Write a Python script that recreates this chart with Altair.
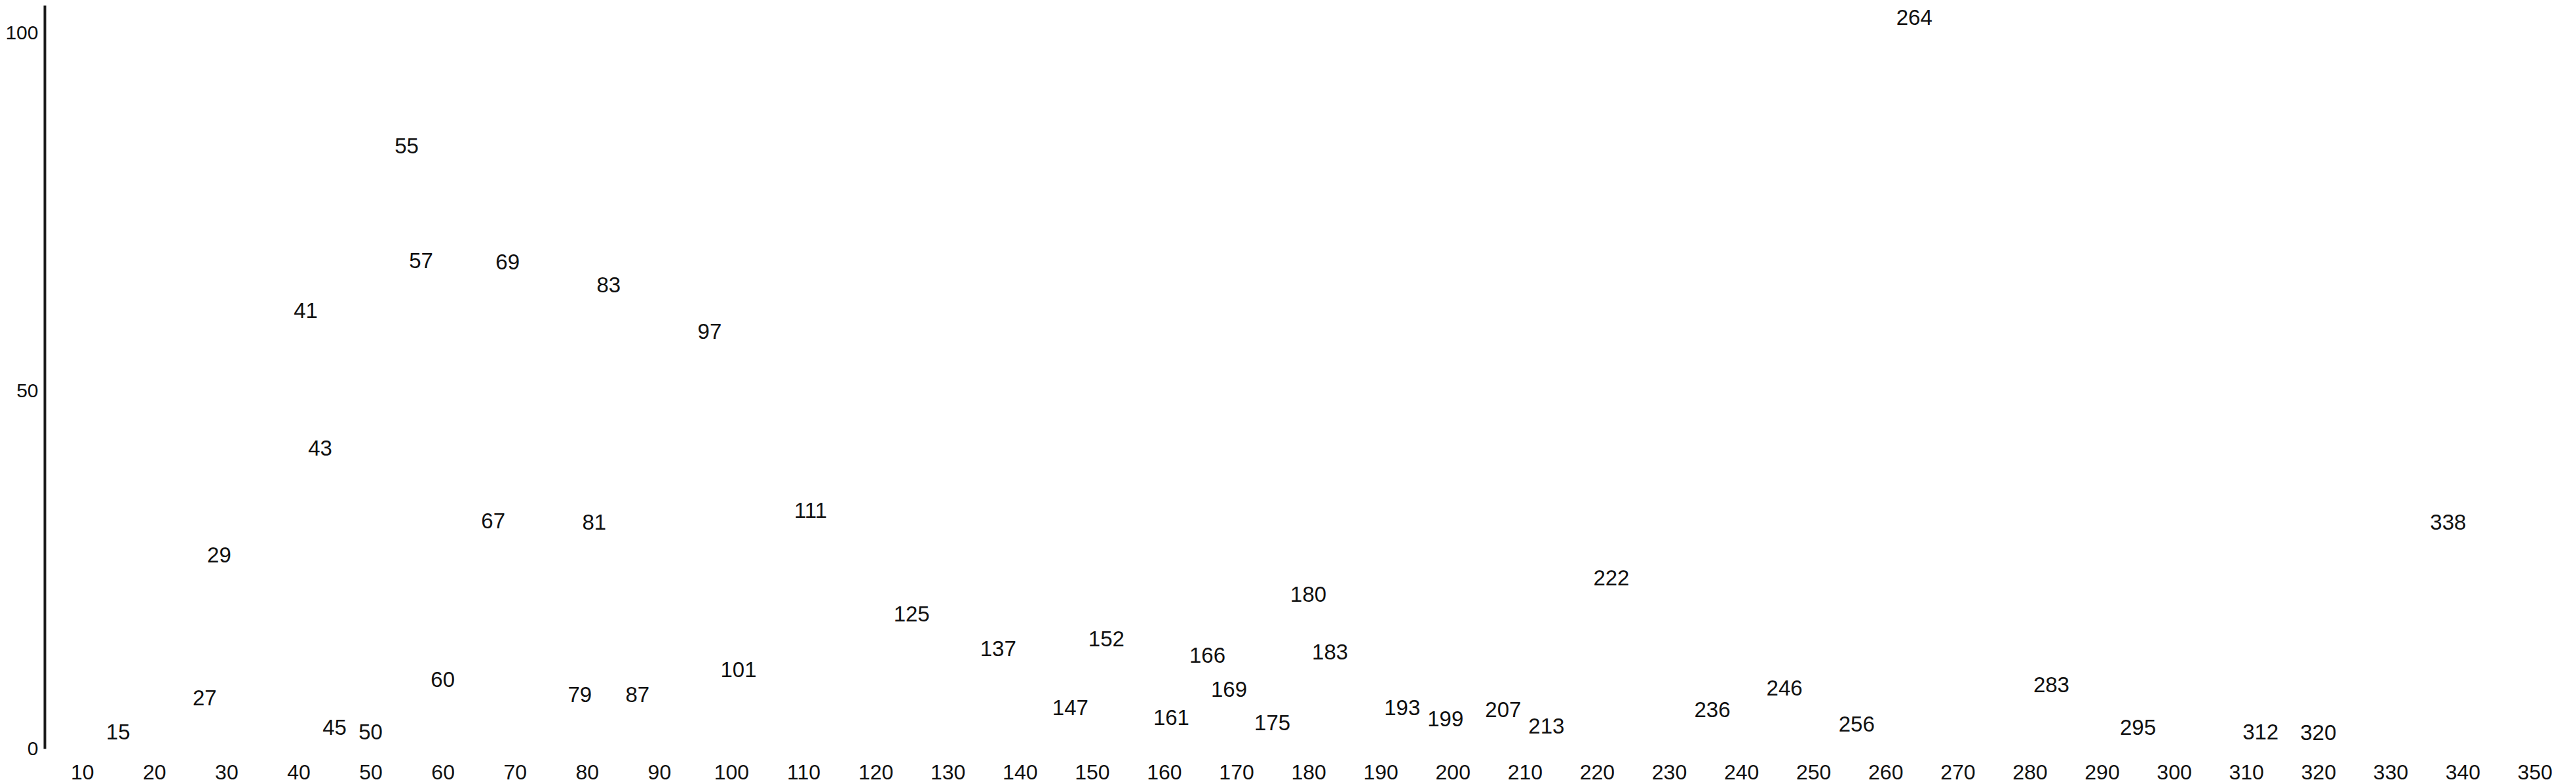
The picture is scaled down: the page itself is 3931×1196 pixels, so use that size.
import altair as alt
import pandas as pd

mz = [15, 27, 29, 41, 43, 45, 50, 55, 57, 60, 67, 69, 79, 81, 83, 87, 97, 101,
      111, 125, 137, 147, 152, 161, 166, 169, 175, 180, 183, 193, 199, 207, 213,
      222, 236, 246, 256, 264, 283, 295, 312, 320, 338]
intensity = [0.2, 4.9, 24.9, 59.1, 39.8, 0.8, 0.2, 82.1, 66.0, 7.5, 29.7, 65.8,
             5.4, 29.5, 62.6, 5.4, 56.1, 8.9, 31.1, 16.7, 11.8, 3.6, 13.2, 2.2,
             10.9, 6.1, 1.5, 19.4, 11.4, 3.6, 2.0, 3.3, 1.0, 21.7, 3.3, 6.3, 1.3,
             100.0, 6.8, 0.8, 0.2, 0.1, 29.5]
labels = [str(m) for m in mz]
x_ticks = list(range(10, 351, 10))
y_ticks = [0, 50, 100]

df = pd.DataFrame({"mz": mz, "intensity": intensity, "label": labels})

FONT = "Liberation Sans"

chart = alt.Chart(df).mark_text(
    font=FONT, fontSize=33, baseline="alphabetic", align="center", dy=-12, color="#111111"
).encode(
    x=alt.X("mz:Q",
            scale=alt.Scale(domain=[4.8, 355], nice=False, zero=False),
            axis=alt.Axis(values=x_ticks, domain=False, ticks=False, grid=False,
                          labelPadding=21, labelFontSize=32, labelFont=FONT,
                          labelColor="#111111", title=None, labelFlush=False,
                          labelOverlap=False)),
    y=alt.Y("intensity:Q",
            scale=alt.Scale(domain=[0, 103.85], nice=False),
            axis=alt.Axis(values=y_ticks, domain=True, domainWidth=4, domainColor="#1a1a1a",
                          ticks=False, grid=False, labelPadding=10, labelFontSize=30,
                          labelFont=FONT, labelColor="#111111", title=None,
                          labelFlush=False, labelOverlap=False)),
    text="label:N",
).properties(
    width=3855, height=1134,
    padding={"left": 60, "top": 0, "right": 0, "bottom": 54},
    autosize=alt.AutoSizeParams(type="none"),
).configure_view(stroke=None)

chart.save("out.html", embed_options={"renderer": "svg", "actions": False})
